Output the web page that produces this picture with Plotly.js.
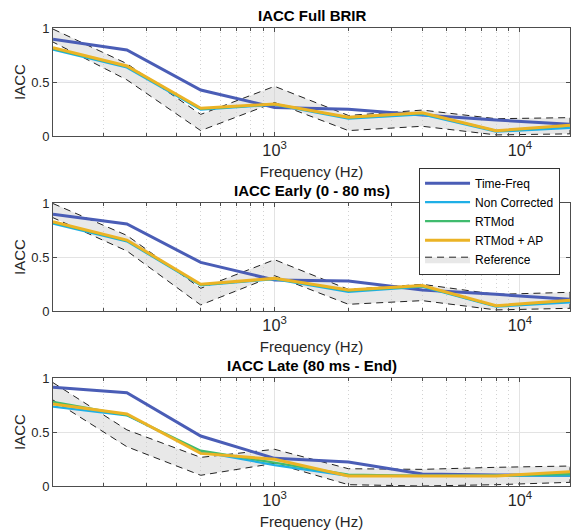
<!DOCTYPE html>
<html>
<head>
<meta charset="utf-8">
<script src="https://cdn.plot.ly/plotly-3.0.1.min.js"></script>
<style>html,body{margin:0;padding:0;background:#fff;}#chart{width:573px;height:530px;}</style>
</head>
<body>
<div id="chart"></div>
<script>
// Octave band centre frequencies (Hz)
const freqs = [125, 250, 500, 1000, 2000, 4000, 8000, 16000];

// IACC Full BRIR
const tfFull    = [0.895, 0.796, 0.426, 0.265, 0.247, 0.194, 0.148, 0.108];
const ncFull    = [0.800, 0.635, 0.245, 0.290, 0.160, 0.200, 0.040, 0.075];
const rtFull    = [0.810, 0.645, 0.252, 0.295, 0.170, 0.212, 0.047, 0.095];
const apFull    = [0.818, 0.648, 0.256, 0.296, 0.173, 0.216, 0.049, 0.099];
const refUpFull = [0.990, 0.670, 0.200, 0.460, 0.190, 0.240, 0.160, 0.170];
const refLoFull = [0.870, 0.520, 0.050, 0.310, 0.050, 0.090, 0.010, 0.020];

// IACC Early (0 - 80 ms)
const tfEarly    = [0.895, 0.806, 0.450, 0.287, 0.278, 0.194, 0.154, 0.108];
const ncEarly    = [0.810, 0.645, 0.237, 0.295, 0.178, 0.225, 0.040, 0.080];
const rtEarly    = [0.820, 0.652, 0.243, 0.300, 0.188, 0.230, 0.046, 0.095];
const apEarly    = [0.827, 0.657, 0.247, 0.302, 0.194, 0.235, 0.049, 0.099];
const refUpEarly = [0.995, 0.700, 0.210, 0.475, 0.200, 0.247, 0.154, 0.173];
const refLoEarly = [0.864, 0.556, 0.056, 0.327, 0.062, 0.096, 0.010, 0.025];

// IACC Late (80 ms - End)
const tfLate    = [0.914, 0.864, 0.463, 0.256, 0.222, 0.111, 0.102, 0.100];
const ncLate    = [0.735, 0.654, 0.318, 0.194, 0.093, 0.093, 0.093, 0.096];
const rtLate    = [0.780, 0.657, 0.327, 0.216, 0.105, 0.093, 0.096, 0.110];
const apLate    = [0.760, 0.667, 0.302, 0.247, 0.093, 0.093, 0.093, 0.133];
const refUpLate = [0.957, 0.520, 0.265, 0.340, 0.160, 0.154, 0.173, 0.185];
const refLoLate = [0.796, 0.364, 0.099, 0.210, 0.012, 0.000, 0.012, 0.034];

const panelTitles = ['IACC Full BRIR', 'IACC Early (0 - 80 ms)', 'IACC Late (80 ms - End)'];
const seriesNames = ['Time-Freq', 'Non Corrected', 'RTMod', 'RTMod + AP', 'Reference'];

const panels = [
  {tf: tfFull,  nc: ncFull,  rt: rtFull,  ap: apFull,  up: refUpFull,  lo: refLoFull},
  {tf: tfEarly, nc: ncEarly, rt: rtEarly, ap: apEarly, up: refUpEarly, lo: refLoEarly},
  {tf: tfLate,  nc: ncLate,  rt: rtLate,  ap: apLate,  up: refUpLate,  lo: refLoLate}
];

const colors = {tf: '#4a5db6', nc: '#1fafe6', rt: '#40bb6e', ap: '#ebb325'};
const FONT = 'Liberation Sans, Arial, Helvetica, sans-serif';

const traces = [];
panels.forEach((p, i) => {
  const xa = i === 0 ? 'x' : 'x' + (i + 1);
  const ya = i === 0 ? 'y' : 'y' + (i + 1);
  const first = i === 0;
  // Reference band: closed polygon (upper edge then lower edge reversed)
  const bandX = freqs.concat(freqs.slice().reverse());
  const bandY = p.up.concat(p.lo.slice().reverse());
  traces.push({x: bandX, y: bandY, xaxis: xa, yaxis: ya, type: 'scatter', mode: 'lines',
    fill: 'toself', fillcolor: 'rgba(205,205,205,0.45)',
    line: {color: '#222', width: 1, dash: '7px,5px'}, name: seriesNames[4],
    showlegend: first, legendgroup: 'ref', legendrank: 5});
  traces.push({x: freqs, y: p.tf, xaxis: xa, yaxis: ya, type: 'scatter', mode: 'lines',
    line: {color: colors.tf, width: 3}, name: seriesNames[0], showlegend: first,
    legendgroup: 'tf', legendrank: 1});
  traces.push({x: freqs, y: p.nc, xaxis: xa, yaxis: ya, type: 'scatter', mode: 'lines',
    line: {color: colors.nc, width: 2.2}, name: seriesNames[1], showlegend: first,
    legendgroup: 'nc', legendrank: 2});
  traces.push({x: freqs, y: p.rt, xaxis: xa, yaxis: ya, type: 'scatter', mode: 'lines',
    line: {color: colors.rt, width: 2.2}, name: seriesNames[2], showlegend: first,
    legendgroup: 'rt', legendrank: 3});
  traces.push({x: freqs, y: p.ap, xaxis: xa, yaxis: ya, type: 'scatter', mode: 'lines',
    line: {color: colors.ap, width: 3}, name: seriesNames[3], showlegend: first,
    legendgroup: 'ap', legendrank: 4});
});

const domains = [[0.7642, 1], [0.3821, 0.6179], [0, 0.2358]];

function xAxis(i) {
  return {
    type: 'log', range: [Math.log10(125), Math.log10(16000)], domain: [0, 1],
    anchor: i === 0 ? 'y' : 'y' + (i + 1),
    dtick: 1, exponentformat: 'power', showexponent: 'all',
    showline: true, linecolor: '#4d4d4d', linewidth: 1, mirror: 'ticks',
    ticks: 'inside', ticklen: 4, tickcolor: '#4d4d4d',
    showgrid: true, gridcolor: '#e3e3e3', gridwidth: 1, zeroline: false,
    tickfont: {family: FONT, size: 13, color: '#262626'},
    minor: {dtick: 'D1', showgrid: true, griddash: '1px,3px', gridcolor: '#d2d2d2',
      ticks: 'inside', ticklen: 3, tickcolor: '#4d4d4d'},
    title: {text: 'Frequency (Hz)', font: {family: FONT, size: 15, color: '#262626'}, standoff: 8},
    automargin: false
  };
}
function yAxis(i) {
  return {
    domain: domains[i], range: [0, 1], anchor: i === 0 ? 'x' : 'x' + (i + 1),
    tickvals: [0, 0.5, 1], ticktext: ['0', '0.5', '1'],
    showline: true, linecolor: '#4d4d4d', linewidth: 1, mirror: 'ticks',
    ticks: 'inside', ticklen: 4, tickcolor: '#4d4d4d',
    showgrid: true, gridcolor: '#e3e3e3', zeroline: false,
    tickfont: {family: FONT, size: 13, color: '#262626'},
    title: {text: 'IACC', font: {family: FONT, size: 15, color: '#262626'}, standoff: 2},
    automargin: false
  };
}

const layout = {
  width: 573, height: 530,
  margin: {l: 53, r: 3, t: 28, b: 44},
  paper_bgcolor: '#ffffff', plot_bgcolor: '#ffffff',
  font: {family: FONT, size: 12, color: '#000'},
  showlegend: true,
  legend: {x: 0.708, y: 0.695, xanchor: 'left', yanchor: 'top',
    bgcolor: '#ffffff', bordercolor: '#333', borderwidth: 1,
    font: {family: FONT, size: 12, color: '#000'}, itemwidth: 45,
    tracegroupgap: 0, traceorder: 'normal'},
  annotations: panelTitles.map((t, i) => ({
    text: '<b>' + t + '</b>', xref: 'paper', yref: 'paper', x: 0.5, y: domains[i][1],
    xanchor: 'center', yanchor: 'bottom', yshift: 2, showarrow: false,
    font: {family: FONT, size: 15, color: '#000'}
  }))
};
[0, 1, 2].forEach(i => {
  layout[i === 0 ? 'xaxis' : 'xaxis' + (i + 1)] = xAxis(i);
  layout[i === 0 ? 'yaxis' : 'yaxis' + (i + 1)] = yAxis(i);
});

Plotly.newPlot('chart', traces, layout, {displayModeBar: false, staticPlot: true});
</script>
</body>
</html>
